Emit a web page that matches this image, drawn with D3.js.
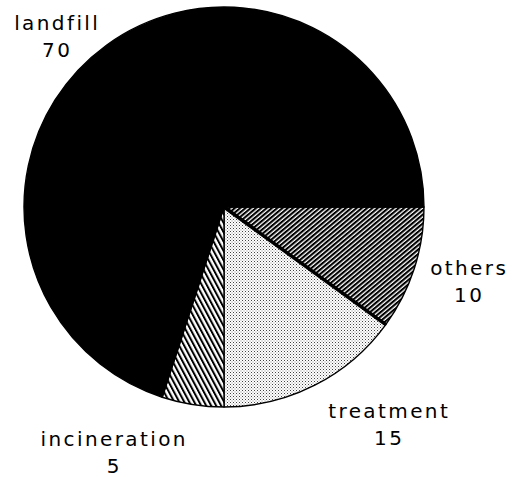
<!DOCTYPE html>
<html>
<head>
<meta charset="utf-8">
<script src="https://cdn.jsdelivr.net/npm/d3@7"></script>
<style>
  html, body { margin: 0; padding: 0; background: #fff; }
  svg { display: block; }
  text { font-family: "DejaVu Sans", sans-serif; font-size: 20px; fill: #000; letter-spacing: 2.4px; }
</style>
</head>
<body>
<svg id="chart" width="512" height="477"></svg>
<script>
// Data (drawn clockwise from 3 o'clock)
const categories = ["others", "treatment", "incineration", "landfill"];
const values = [10, 15, 5, 70];
const labelValues = ["10", "15", "5", "70"];

const svg = d3.select("#chart");
const cx = 224, cy = 207, R = 200;

const defs = svg.append("defs");

// others: dense "/" hatch
const pOthers = defs.append("pattern")
  .attr("id", "p-others").attr("patternUnits", "userSpaceOnUse")
  .attr("width", 3.4).attr("height", 10)
  .attr("patternTransform", "rotate(50)");
pOthers.append("rect").attr("width", 3.4).attr("height", 10).attr("fill", "#fff");
pOthers.append("rect").attr("width", 2.1).attr("height", 10).attr("fill", "#000");

// incineration: "\" hatch, steeper
const pInc = defs.append("pattern")
  .attr("id", "p-inc").attr("patternUnits", "userSpaceOnUse")
  .attr("width", 4.4).attr("height", 10)
  .attr("patternTransform", "rotate(-28)");
pInc.append("rect").attr("width", 4.4).attr("height", 10).attr("fill", "#fff");
pInc.append("rect").attr("width", 2.0).attr("height", 10).attr("fill", "#000");

// treatment: light stipple
const pTr = defs.append("pattern")
  .attr("id", "p-tr").attr("patternUnits", "userSpaceOnUse")
  .attr("width", 3).attr("height", 3);
pTr.append("rect").attr("width", 3).attr("height", 3).attr("fill", "#fff");
pTr.append("rect").attr("x", 0).attr("y", 0).attr("width", 1).attr("height", 1).attr("fill", "#444");
pTr.append("rect").attr("x", 1.5).attr("y", 1.5).attr("width", 1).attr("height", 1).attr("fill", "#888");

const fills = {
  others: "url(#p-others)",
  treatment: "url(#p-tr)",
  incineration: "url(#p-inc)",
  landfill: "#000"
};

const data = categories.map((c, i) => ({ cat: c, value: values[i], label: labelValues[i] }));

const pie = d3.pie().value(d => d.value).sort(null)
  .startAngle(Math.PI / 2).endAngle(Math.PI / 2 + 2 * Math.PI);
const arcs = pie(data);
const arc = d3.arc().innerRadius(0).outerRadius(R);

const g = svg.append("g").attr("transform", `translate(${cx},${cy})`);
g.selectAll("path.slice").data(arcs).enter().append("path")
  .attr("class", "slice")
  .attr("d", arc)
  .attr("fill", d => fills[d.data.cat])
  .attr("stroke", "#000")
  .attr("stroke-width", 1.4)
  .attr("stroke-linejoin", "round");

// thicker boundary between others and treatment
const bnd = arcs[0].endAngle;
g.append("line")
  .attr("x1", 0).attr("y1", 0)
  .attr("x2", R * Math.sin(bnd)).attr("y2", -R * Math.cos(bnd))
  .attr("stroke", "#000").attr("stroke-width", 3.5);

// labels (positions in page coordinates)
const labelPos = {
  landfill: [56, 30],
  others: [468, 275],
  treatment: [388, 418],
  incineration: [113, 446]
};

data.forEach(d => {
  const [x, y] = labelPos[d.cat];
  const t = svg.append("text").attr("text-anchor", "middle")
    .attr("transform", `translate(${x + 1.2},${y})`);
  t.append("tspan").attr("x", 0).attr("y", 0).text(d.cat);
  t.append("tspan").attr("x", 0).attr("y", 27).text(d.label);
});
</script>
</body>
</html>
